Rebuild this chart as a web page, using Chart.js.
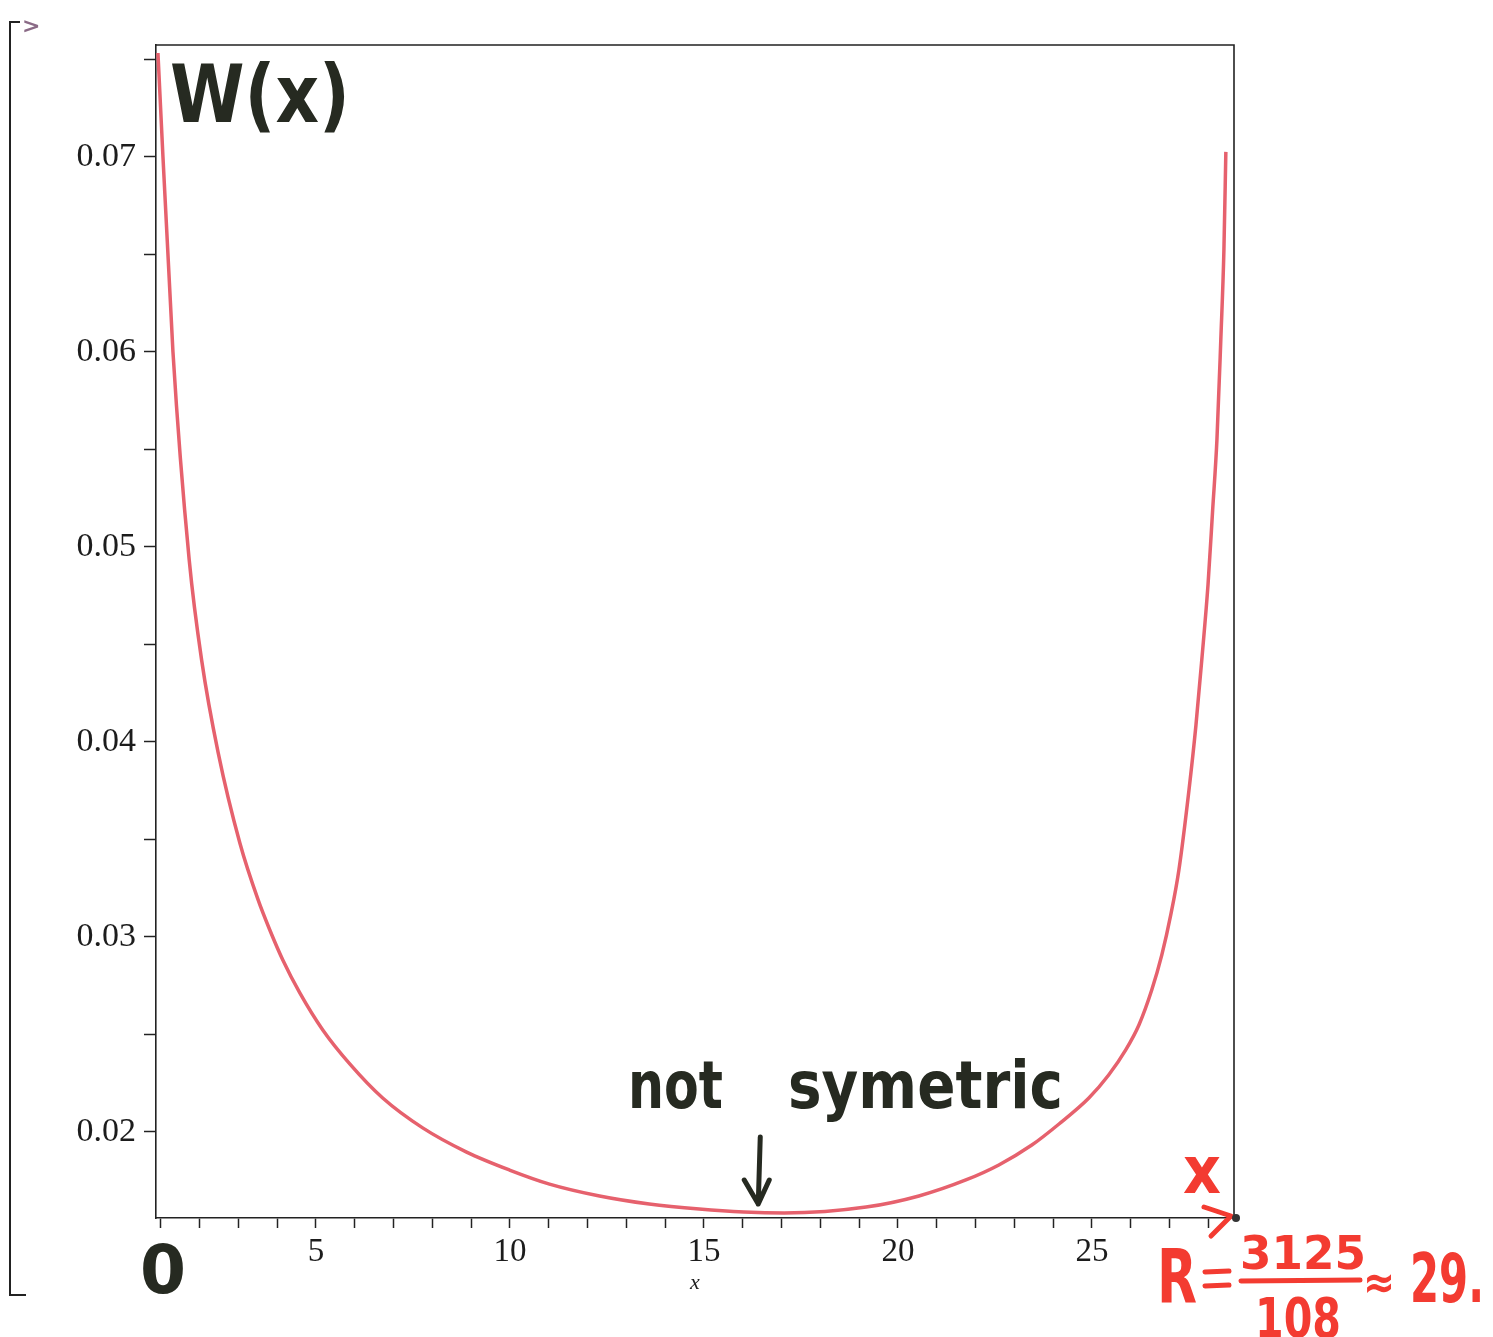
<!DOCTYPE html>
<html>
<head>
<meta charset="utf-8">
<script src="https://cdn.jsdelivr.net/npm/chart.js@4.4.1/dist/chart.umd.min.js"></script>
<style>
  html, body { margin: 0; padding: 0; background: #fff; }
</style>
</head>
<body>
<canvas id="wChart" width="1493" height="1337"></canvas>
<script>
const xValues = [0.930, 1.317, 1.736, 2.055, 2.483, 3.041, 3.512, 3.813, 4.148, 4.586, 5.178, 5.873, 6.722, 7.752,
                 8.884, 9.991, 11.02, 12.31, 13.59, 14.88, 16.03, 17.07, 19.18, 20.54, 21.75, 22.60, 23.45, 24.15,
                 24.92, 25.43, 25.87, 26.21, 26.54, 26.80, 27.03, 27.24, 27.50, 27.68, 27.83, 27.99, 28.11, 28.22,
                 28.32, 28.40, 28.45];
const wValues = [0.07533, 0.06000, 0.04933, 0.04421, 0.03944, 0.03482, 0.03190, 0.03036, 0.02882, 0.02713, 0.02523, 0.02349, 0.02174, 0.02021,
                 0.01897, 0.01805, 0.01733, 0.01672, 0.01631, 0.01605, 0.01590, 0.01585, 0.01615, 0.01672, 0.01754, 0.01831, 0.01933, 0.02041,
                 0.02174, 0.02292, 0.02421, 0.02549, 0.02728, 0.02908, 0.03113, 0.03344, 0.03754, 0.04087, 0.04421, 0.04805, 0.05190, 0.05549,
                 0.06062, 0.06523, 0.07026];

const xRange = [0.88, 28.66];
const yRange = [0.01559, 0.07574];
const xLabelTicks = [5, 10, 15, 20, 25];
const yLabelTicks = [0.02, 0.03, 0.04, 0.05, 0.06, 0.07];

const ink = "#262a21";
const red = "#f33b31";

// draw a string squeezed/stretched to a given width
function fitText(ctx, text, x, y, w, size, color) {
  ctx.save();
  ctx.font = "bold " + size + "px 'DejaVu Sans'";
  ctx.fillStyle = color;
  ctx.textBaseline = "alphabetic";
  const m = ctx.measureText(text).width;
  ctx.translate(x, y);
  ctx.scale(w / m, 1);
  ctx.fillText(text, 0, 0);
  ctx.restore();
}

const notesPlugin = {
  id: "notes",
  afterDraw(chart) {
    const ctx = chart.ctx;
    const a = chart.chartArea;
    const xs = chart.scales.x;

    // plot frame (top and right)
    ctx.save();
    ctx.strokeStyle = "#222";
    ctx.lineWidth = 1.6;
    ctx.beginPath();
    ctx.moveTo(a.left, a.top);
    ctx.lineTo(a.right, a.top);
    ctx.lineTo(a.right, a.bottom);
    ctx.stroke();

    // worksheet bracket and prompt
    ctx.lineWidth = 2;
    ctx.beginPath();
    ctx.moveTo(20, 22);
    ctx.lineTo(10, 22);
    ctx.lineTo(10, 1295);
    ctx.lineTo(26, 1295);
    ctx.stroke();
    ctx.fillStyle = "#8a6a86";
    ctx.font = "bold 22px 'DejaVu Sans'";
    ctx.fillText(">", 22, 33);
    ctx.restore();

    // handwritten notes
    fitText(ctx, "W(x)", 170, 122, 180, 80, ink);
    fitText(ctx, "not", 628, 1108, 95, 66, ink);
    fitText(ctx, "symetric", 788, 1108, 275, 66, ink);
    fitText(ctx, "0", 140, 1293, 46, 68, ink);

    // arrow to the minimum
    const mx = xs.getPixelForValue(16.4);
    ctx.save();
    ctx.strokeStyle = ink;
    ctx.lineWidth = 5;
    ctx.lineCap = "round";
    ctx.lineJoin = "round";
    ctx.beginPath();
    ctx.moveTo(mx + 2, 1137);
    ctx.lineTo(mx, 1204);
    ctx.moveTo(mx - 14, 1180);
    ctx.lineTo(mx, 1204);
    ctx.lineTo(mx + 11, 1180);
    ctx.stroke();
    ctx.restore();

    // red notes near the right end
    fitText(ctx, "x", 1183, 1193, 38, 66, red);
    ctx.save();
    ctx.strokeStyle = red;
    ctx.lineWidth = 5;
    ctx.lineCap = "round";
    ctx.lineJoin = "round";
    ctx.beginPath();
    ctx.moveTo(1204, 1207);
    ctx.lineTo(1231, 1216);
    ctx.lineTo(1211, 1236);
    ctx.stroke();
    ctx.beginPath();
    ctx.arc(a.right + 2, a.bottom, 4, 0, Math.PI * 2);
    ctx.fillStyle = "#333";
    ctx.fill();

    fitText(ctx, "R", 1157, 1303, 40, 74, red);
    ctx.beginPath();
    ctx.moveTo(1205, 1272); ctx.lineTo(1229, 1271);
    ctx.moveTo(1205, 1286); ctx.lineTo(1229, 1285);
    ctx.moveTo(1241, 1281); ctx.lineTo(1360, 1280);
    ctx.stroke();
    ctx.restore();
    fitText(ctx, "3125", 1240, 1269, 126, 46, red);
    fitText(ctx, "108", 1255, 1337, 86, 56, red);
    fitText(ctx, "\u2248", 1363, 1298, 32, 46, red);
    fitText(ctx, "29.", 1410, 1302, 74, 68, red);
  }
};

new Chart(document.getElementById("wChart"), {
  type: "scatter",
  data: {
    datasets: [{
      data: xValues.map((x, i) => ({ x: x, y: wValues[i] })),
      showLine: true,
      borderColor: "#e6616d",
      borderWidth: 3.5,
      pointRadius: 0,
      cubicInterpolationMode: "monotone",
      fill: false
    }]
  },
  options: {
    responsive: false,
    animation: false,
    layout: { padding: { top: 45, right: 259, left: 0, bottom: 0 } },
    plugins: {
      legend: { display: false },
      tooltip: { enabled: false }
    },
    scales: {
      x: {
        type: "linear",
        min: xRange[0],
        max: xRange[1],
        afterFit: (s) => { s.height = 119; },
        border: { color: "#222", width: 1.6 },
        grid: { drawOnChartArea: false, drawTicks: true, tickLength: 10, tickColor: "#222", tickWidth: 1.5 },
        ticks: {
          stepSize: 1,
          includeBounds: false,
          autoSkip: false,
          maxRotation: 0,
          padding: 5,
          color: "#1c1c1c",
          font: { family: "'Liberation Serif'", size: 33 },
          callback: (v) => xLabelTicks.includes(Math.round(v * 1000) / 1000) ? String(v) : ""
        },
        title: {
          display: true,
          text: "x",
          color: "#222",
          font: { family: "'Liberation Serif'", size: 22, style: "italic" },
          padding: { top: 0, bottom: 41 }
        }
      },
      y: {
        type: "linear",
        min: yRange[0],
        max: yRange[1],
        afterFit: (s) => { s.width = 156; },
        border: { color: "#222", width: 1.6 },
        grid: { drawOnChartArea: false, drawTicks: true, tickLength: 12, tickColor: "#222", tickWidth: 1.5 },
        ticks: {
          stepSize: 0.005,
          includeBounds: false,
          autoSkip: false,
          padding: 8,
          color: "#1c1c1c",
          font: { family: "'Liberation Serif'", size: 34 },
          callback: (v) => {
            const hit = yLabelTicks.find((t) => Math.abs(t - v) < 1e-9);
            return hit !== undefined ? hit.toFixed(2) : "";
          }
        }
      }
    }
  },
  plugins: [notesPlugin]
});
</script>
</body>
</html>
